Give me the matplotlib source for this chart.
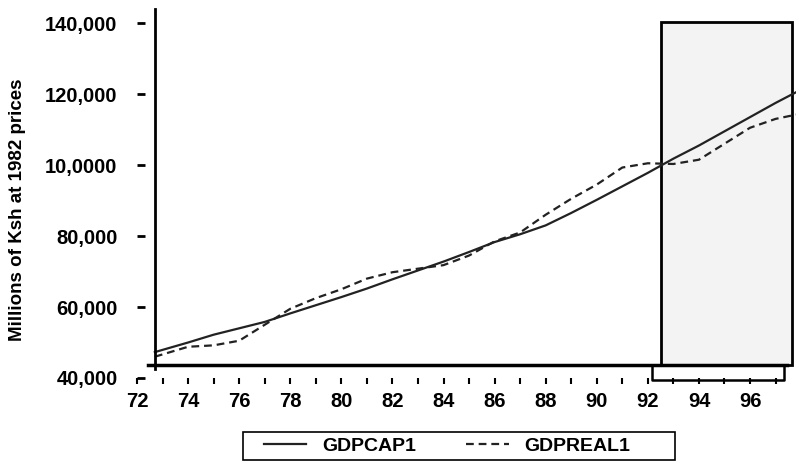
import matplotlib
matplotlib.use("Agg")
import matplotlib.pyplot as plt
from matplotlib.patches import Rectangle

# values (millions of KSh at 1982 prices)
years = [72.7, 74, 75, 76, 77, 78, 79, 80, 81, 82, 83, 84, 85, 86, 87, 88,
         89, 90, 91, 92, 93, 94, 95, 96, 97, 97.8]
gdpcap1 = [47300, 50000, 52200, 54000, 55800, 58200, 60500, 62800, 65200,
           67800, 70300, 72800, 75500, 78300, 80500, 83000, 86500, 90200,
           94000, 97800, 101800, 105500, 109500, 113500, 117500, 120500]
gdpreal1 = [46000, 48800, 49200, 50500, 55000, 59500, 62500, 65000, 68000,
            69800, 70800, 71800, 74500, 78500, 81000, 86000, 90500, 94500,
            99300, 100500, 100300, 101500, 106000, 110500, 113000, 114200]

xticks = [72, 74, 76, 78, 80, 82, 84, 86, 88, 90, 92, 94, 96]
yticks = [40000, 60000, 80000, 100000, 120000, 140000]
ylabels = ["40,000", "60,000", "80,000", "10,0000", "120,000", "140,000"]

plt.rcParams['font.family'] = ['Liberation Sans', 'DejaVu Sans']

fig = plt.figure(figsize=(7.96, 4.66), dpi=100)
ax = fig.add_axes([137/796, 88/466, 659/796, 378/466])

l1, = ax.plot(years, gdpcap1, color='#222222', lw=1.6, label='GDPCAP1', zorder=3)
l2, = ax.plot(years, gdpreal1, color='#222222', lw=1.6, ls=(0, (3.5, 2.2)),
              label='GDPREAL1', zorder=3)

# shaded forecast box
ax.add_patch(Rectangle((92.5, 43700), 5.15, 96600, facecolor='#f3f3f3',
                       edgecolor='none', zorder=1))
ax.add_patch(Rectangle((92.5, 43700), 5.15, 96600, facecolor='none',
                       edgecolor='black', lw=2, zorder=2))
ax.plot([92.16, 92.16, 97.33, 97.33], [43700, 39400, 39400, 43700],
        color='black', lw=1.8, clip_on=False)

# axis lines as drawn in the original
ax.plot([72.43, 97.45], [43700, 43700], color='black', lw=2.5, zorder=4)
ax.plot([72.7, 72.7], [42500, 144000], color='black', lw=2, zorder=4)

for s in ax.spines.values():
    s.set_visible(False)

ax.set_xticks(xticks)
ax.set_xticks([x + 1 for x in xticks], minor=True)
ax.set_yticks(yticks)
ax.set_yticklabels(ylabels)
ax.set_xlim(72, 97.8)
ax.set_ylim(40000, 146500)
ax.tick_params(axis='y', direction='in', length=6, width=2, pad=14,
               labelsize=14.5)
ax.tick_params(axis='x', which='both', length=4, width=1.5, pad=6,
               labelsize=14.5)
for t in ax.get_xticklabels() + ax.get_yticklabels():
    t.set_fontweight('bold')

fig.text(18/796, 1 - 210/466, 'Millions of Ksh at 1982 prices', rotation=90,
         ha='center', va='center', fontsize=13.5, fontweight='bold')

# legend box below the plot
fig.patches.append(Rectangle((243/796, 1 - 460/466), 432/796, 28/466,
                             transform=fig.transFigure, facecolor='white',
                             edgecolor='black', lw=1.2))
leg = fig.legend([l1, l2], ['GDPCAP1', 'GDPREAL1'], loc='center left',
                 bbox_to_anchor=(250/796, 1 - 446/466), ncol=2,
                 prop={'size': 14, 'weight': 'bold'}, frameon=False,
                 handlelength=2.2, handletextpad=0.8, columnspacing=2.6,
                 borderpad=0.2)

plt.savefig('out.png', dpi=100)
